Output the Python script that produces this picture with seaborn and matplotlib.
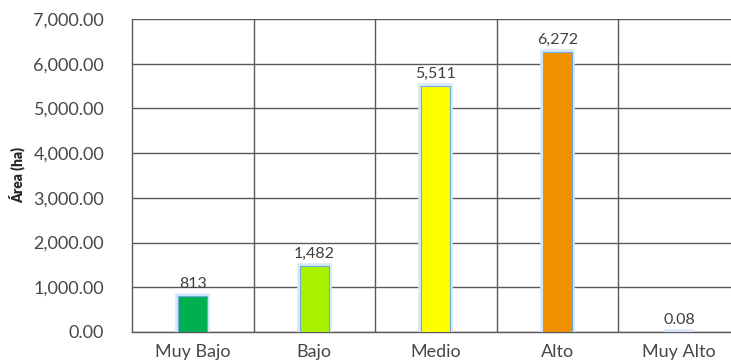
import matplotlib
matplotlib.use("Agg")
import matplotlib.pyplot as plt
import matplotlib.patheffects as pe
from matplotlib.ticker import FuncFormatter, FixedLocator
import pandas as pd
import seaborn as sns

categories = ["Muy Bajo", "Bajo", "Medio", "Alto", "Muy Alto"]
areas = [813, 1482, 5511, 6272, 0.08]
value_labels = ["813", "1,482", "5,511", "6,272", "0.08"]
bar_colors = ["#00b050", "#a8f200", "#ffff00", "#f29100", "#e0506a"]
y_ticks = [0, 1000, 2000, 3000, 4000, 5000, 6000, 7000]


def main():
    sns.set_style("white")
    plt.rcParams["font.family"] = ["Lato", "DejaVu Sans"]

    df = pd.DataFrame({"Categoria": categories, "Area": areas})

    fig = plt.figure(figsize=(7.31, 3.62), dpi=100)
    ax = fig.add_axes([0.1806, 0.083, 0.8314, 0.8645])

    sns.barplot(
        data=df,
        x="Categoria",
        y="Area",
        hue="Categoria",
        palette=bar_colors,
        saturation=1,
        legend=False,
        width=0.24,
        edgecolor="#6fa8dc",
        linewidth=0.8,
        ax=ax,
    )
    for bar, c in zip(ax.patches, bar_colors):
        bar.set_path_effects([
            pe.Stroke(linewidth=4, foreground="#d6e9fb"),
            pe.Normal(),
        ])
        bar.set_zorder(3)
    # the "Muy Alto" bar is almost zero; Excel still shows a thin red line
    ax.patches[-1].set_edgecolor(bar_colors[-1])

    for i, (v, lab) in enumerate(zip(areas, value_labels)):
        ax.text(i, v + 110, lab, ha="center", va="bottom",
                fontsize=11.5, color="#404040", zorder=4)

    ax.set_ylim(0, 7000)
    ax.set_xlim(-0.5, 4.5)
    ax.set_yticks(y_ticks)
    ax.yaxis.set_major_formatter(FuncFormatter(lambda v, _: f"{v:,.2f}"))
    ax.xaxis.set_minor_locator(FixedLocator([0.5, 1.5, 2.5, 3.5]))
    ax.grid(True, axis="y", which="major", color="#5a5a5a", linewidth=1.0)
    ax.grid(True, axis="x", which="minor", color="#5a5a5a", linewidth=1.0)
    ax.set_axisbelow(True)
    ax.tick_params(axis="both", which="both", length=0, labelsize=13,
                   labelcolor="#474747")
    ax.tick_params(axis="y", pad=20)
    ax.tick_params(axis="x", pad=9)

    for side in ["top", "right"]:
        ax.spines[side].set_visible(False)
    for side in ["left", "bottom"]:
        ax.spines[side].set_color("#5a5a5a")
        ax.spines[side].set_linewidth(1.0)

    ax.set_xlabel("")
    ax.set_ylabel("Área (ha)", fontsize=10, fontweight="heavy", color="#262626",
                  labelpad=6)

    fig.savefig("out.png", dpi=100)
    plt.close(fig)


if __name__ == "__main__":
    main()
